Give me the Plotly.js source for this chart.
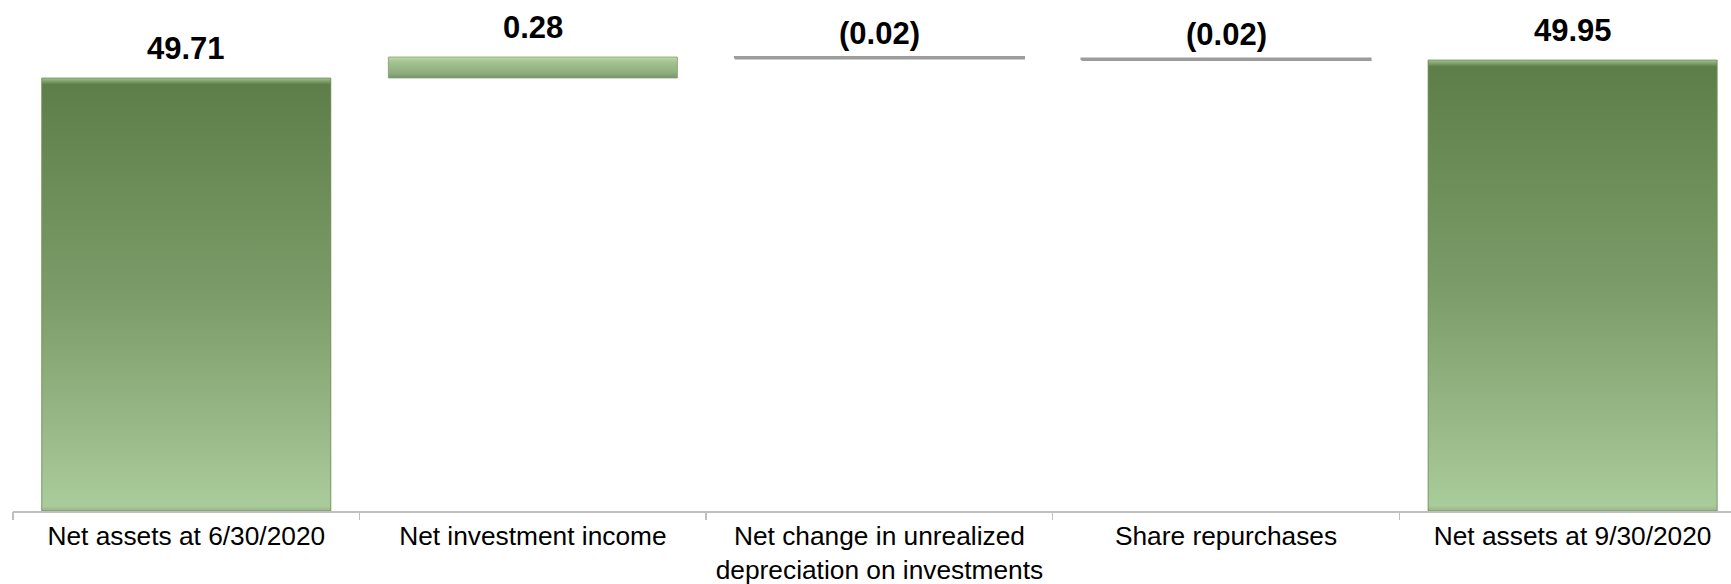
<!DOCTYPE html>
<html>
<head>
<meta charset="utf-8">
<script src="https://cdn.plot.ly/plotly-3.0.1.min.js"></script>
<style>
html, body { margin: 0; padding: 0; background: #ffffff; }
#chart { width: 1731px; height: 584px; }
</style>
</head>
<body>
<div id="chart"></div>
<script>
// ---- Data ----
const categories = [
  "Net assets at 6/30/2020",
  "Net investment income",
  "Net change in unrealized<br>depreciation on investments",
  "Share repurchases",
  "Net assets at 9/30/2020"
];
const values = [49.71, 0.28, -0.02, -0.02, 49.95];
const measures = ["absolute", "relative", "relative", "relative", "total"];
const valueLabels = ["49.71", "0.28", "(0.02)", "(0.02)", "49.95"];

// ---- Styling ----
const FONT = "Liberation Sans, Arial, Helvetica, sans-serif";
const yRange = [43.937, 50.75];
const xRange = [-0.5, 4.457];
const barWidth = 0.834;
const axisColor = "#bfbfbf";

const positions = categories.map((_, i) => i);

// running extents of each waterfall bar, derived from data
let running = 0;
const lows = [], highs = [], kinds = [];
values.forEach((v, i) => {
  let s, e;
  if (measures[i] === "absolute") { s = 0; e = v; running = v; kinds.push("total"); }
  else if (measures[i] === "total") { s = 0; e = running; kinds.push("total"); }
  else { s = running; e = running + v; running = e; kinds.push(v >= 0 ? "inc" : "dec"); }
  lows.push(Math.min(s, e));
  highs.push(Math.max(s, e));
});

const gradients = {
  total: [[0, "#98b588"], [0.012, "#aacb9a"], [0.5, "#7b9b68"], [0.985, "#5e7e49"], [1, "#a2c28e"]],
  inc:   [[0, "#78946a"], [0.25, "#8fae7e"], [0.75, "#a2c28f"], [1, "#bcdaa9"]],
  dec:   [[0, "#7f7f7f"], [0.5, "#acacac"], [1, "#f0f0f0"]]
};
const midColors = { total: "#7b9b68", inc: "#9dbd8a", dec: "#a8a8a8" };

const traces = [];

// the waterfall itself
traces.push({
  type: "waterfall",
  x: positions,
  y: values,
  measure: measures,
  width: barWidth,
  connector: { visible: false },
  increasing: { marker: { color: midColors.inc } },
  decreasing: { marker: { color: midColors.dec } },
  totals: { marker: { color: midColors.total } },
  hoverinfo: "skip",
  showlegend: false
});

// gradient faces drawn on top of each waterfall bar
positions.forEach((p, i) => {
  const lo = Math.max(lows[i], yRange[0]);
  const hi = highs[i];
  const x0 = p - barWidth / 2, x1 = p + barWidth / 2;
  const k = kinds[i];
  traces.push({
    type: "scatter",
    x: [x0, x1, x1, x0, x0],
    y: [lo, lo, hi, hi, lo],
    mode: "lines",
    fill: "toself",
    fillcolor: midColors[k],
    fillgradient: { type: "vertical", colorscale: gradients[k], start: lo, stop: hi },
    line: { width: k === "dec" ? 2 : 0.8, color: k === "dec" ? "#9c9c9c" : (k === "inc" ? "#86a374" : "#6f8f5c") },
    hoverinfo: "skip",
    showlegend: false
  });
});

// helper trace for the boundary tick axis
traces.push({ type: "scatter", x: [], y: [], xaxis: "x2", yaxis: "y", hoverinfo: "skip", showlegend: false });

const annotations = positions.map((p, i) => ({
  x: p,
  y: highs[i],
  xref: "x",
  yref: "y",
  text: "<b>" + valueLabels[i] + "</b>",
  showarrow: false,
  yanchor: "middle",
  yshift: kinds[i] === "dec" ? 24 : 30,
  font: { family: FONT, size: 31, color: "#000000" }
}));

const layout = {
  width: 1731,
  height: 584,
  margin: { l: 13, r: 0, t: 0, b: 73, pad: 0 },
  paper_bgcolor: "#ffffff",
  plot_bgcolor: "#ffffff",
  showlegend: false,
  xaxis: {
    range: xRange,
    tickmode: "array",
    tickvals: positions,
    ticktext: categories,
    ticks: "",
    ticklabelstandoff: 1,
    showline: true,
    linecolor: axisColor,
    linewidth: 1.5,
    showgrid: false,
    zeroline: false,
    tickfont: { family: FONT, size: 26.3, color: "#000000" },
    fixedrange: true
  },
  xaxis2: {
    overlaying: "x",
    anchor: "y",
    side: "bottom",
    range: xRange,
    tickmode: "array",
    tickvals: [-0.5, 0.5, 1.5, 2.5, 3.5, 4.5],
    ticks: "outside",
    ticklen: 8,
    tickwidth: 1.5,
    tickcolor: axisColor,
    showticklabels: false,
    showline: false,
    showgrid: false,
    zeroline: false,
    fixedrange: true
  },
  yaxis: {
    range: yRange,
    visible: false,
    showgrid: false,
    zeroline: false,
    fixedrange: true
  },
  annotations: annotations
};

Plotly.newPlot("chart", traces, layout, { staticPlot: true, displayModeBar: false });
</script>
</body>
</html>
